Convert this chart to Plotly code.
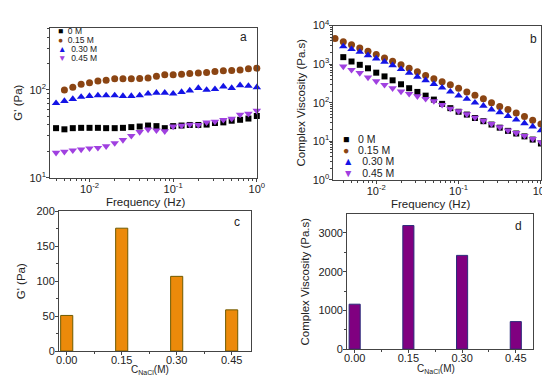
import plotly.graph_objects as go

# ---------------- data ----------------
series_names = ["0 M", "0.15 M", "0.30 M", "0.45 M"]

# Panel a: G' vs frequency
freq_a = [0.00398, 0.00501, 0.00631, 0.00794, 0.01, 0.0126, 0.0158, 0.02, 0.0251, 0.0316,
          0.0398, 0.0501, 0.0631, 0.0794, 0.1, 0.126, 0.158, 0.2, 0.251, 0.316,
          0.398, 0.501, 0.631, 0.794, 1.0]
freq_a_015 = [0.00501, 0.00631, 0.00794, 0.01, 0.0126, 0.0158, 0.02, 0.0251, 0.0316,
              0.0398, 0.0501, 0.0631, 0.0794, 0.1, 0.126, 0.158, 0.2, 0.251, 0.316,
              0.398, 0.501, 0.631, 0.794, 1.0]
g_0M = [36.7, 35.6, 36.7, 37.0, 37.0, 37.0, 36.7, 36.7, 37.0, 37.7, 38.3, 39.3, 38.7, 36.7,
        38.7, 39.3, 39.9, 39.9, 40.3, 42.0, 42.7, 44.6, 45.7, 47.2, 50.5]
g_015M = [100, 107, 116, 121, 126, 129, 134, 134, 134, 135, 137, 143, 149, 149, 151, 154,
          156, 158, 162, 165, 166, 169, 174, 177]
g_030M = [70.5, 74.7, 78.6, 83.2, 85.0, 86.6, 86.6, 86.6, 85.0, 85.0, 86.6, 90.5, 92.7, 92.7,
          90.5, 94.4, 98.4, 105, 100, 102, 109, 105, 113, 111, 107]
g_045M = [19.3, 19.8, 20.5, 21.0, 21.6, 21.9, 22.9, 24.8, 26.9, 30.0, 33.2, 35.5, 34.7, 33.9,
          38.4, 39.3, 40.3, 39.9, 42.7, 43.6, 45.6, 47.2, 52.4, 53.7, 58.0]

# Panel b: complex viscosity vs frequency
freq_b = [0.00398, 0.00501, 0.00631, 0.00794, 0.01, 0.0126, 0.0158, 0.02, 0.0251, 0.0316,
          0.0398, 0.0501, 0.0631, 0.0794, 0.1, 0.126, 0.158, 0.2, 0.251, 0.316,
          0.398, 0.501, 0.631, 0.794, 1.0]
freq_b_015 = [0.00316, 0.00398, 0.00501, 0.00631, 0.00794, 0.01, 0.0126, 0.0158, 0.02, 0.0251,
              0.0316, 0.0398, 0.0501, 0.0631, 0.0794, 0.1, 0.126, 0.158, 0.2, 0.251, 0.316,
              0.398, 0.501, 0.631, 0.794, 1.0]
eta_0M = [1520, 1170, 960, 780, 600, 480, 380, 300, 237, 190, 152, 120, 93, 72, 58,
          49, 40, 33, 27, 22.4, 18.5, 15.8, 13.3, 11.0, 8.7]
eta_015M = [4650, 3800, 3180, 2620, 2150, 1780, 1450, 1180, 960, 780, 630, 510, 420, 350,
            290, 237, 190, 156, 126, 100, 80, 66, 54, 44, 35, 28]
eta_030M = [2880, 2440, 2080, 1700, 1400, 1150, 930, 740, 590, 470, 380, 305, 245, 193, 152,
            125, 100, 83, 66, 56, 45, 36, 29, 24, 19]
eta_045M = [870, 710, 590, 450, 360, 290, 237, 196, 170, 147, 126, 110, 88, 70, 60,
            50, 41, 34, 28, 23, 19, 16.3, 13.8, 11.5, 9.4]

# Panels c, d: bars vs NaCl concentration
conc = [0.00, 0.15, 0.30, 0.45]
conc_labels = ["0.00", "0.15", "0.30", "0.45"]
g_bar = [51, 176, 107, 59]
eta_bar = [1160, 3190, 2420, 710]

# log-axis tick labels
freq_ticks = [0.01, 0.1, 1]
freq_tick_labels = ["10<sup>-2</sup>", "10<sup>-1</sup>", "10<sup>0</sup>"]
g_ticks = [10, 100]
g_tick_labels = ["10<sup>1</sup>", "10<sup>2</sup>"]
eta_ticks = [1, 10, 100, 1000, 10000]
eta_tick_labels = ["10<sup>0</sup>", "10<sup>1</sup>", "10<sup>2</sup>", "10<sup>3</sup>", "10<sup>4</sup>"]

# ---------------- styling ----------------
W, H = 550, 376
FONT = "Arial, Liberation Sans, sans-serif"
AX = "#444444"
TXT = "#222222"
colors = ["#000000", "#8B4513", "#1414E6", "#A040E0"]
symbols = ["square", "circle", "triangle-up", "triangle-down"]
sizes = [6, 7, 7.5, 7.5]
glyphs = ["\u25A0", "\u25CF", "\u25B2", "\u25BC"]


def dx(l, r):
    return [l / W, r / W]


def dy(t, b):
    return [1 - b / H, 1 - t / H]


def axis_style(**kw):
    d = dict(showline=True, linecolor=AX, linewidth=1, mirror=True, ticks="outside",
             ticklen=3, tickcolor=AX, tickwidth=1, showgrid=False, zeroline=False,
             ticklabelstandoff=-2,
             tickfont=dict(family=FONT, size=11, color=TXT),
             title_font=dict(family=FONT, size=11.5, color=TXT))
    d.update(kw)
    return d


fig = go.Figure()

a_x = [freq_a, freq_a_015, freq_a, freq_a]
a_y = [g_0M, g_015M, g_030M, g_045M]
for i in range(4):
    fig.add_trace(go.Scatter(x=a_x[i], y=a_y[i], mode="markers", name=series_names[i],
                             marker=dict(symbol=symbols[i], size=sizes[i], color=colors[i]),
                             xaxis="x", yaxis="y", cliponaxis=False, showlegend=False))

b_x = [freq_b, freq_b_015, freq_b, freq_b]
b_y = [eta_0M, eta_015M, eta_030M, eta_045M]
for i in range(4):
    fig.add_trace(go.Scatter(x=b_x[i], y=b_y[i], mode="markers", name=series_names[i],
                             marker=dict(symbol=symbols[i], size=sizes[i], color=colors[i]),
                             xaxis="x2", yaxis="y2", cliponaxis=False, showlegend=False))

fig.add_trace(go.Bar(x=conc, y=g_bar, width=0.033, xaxis="x3", yaxis="y3", showlegend=False,
                     marker=dict(color="#EC8A0A", line=dict(color="#6E5A00", width=1))))
fig.add_trace(go.Bar(x=conc, y=eta_bar, width=0.031, xaxis="x4", yaxis="y4", showlegend=False,
                     marker=dict(color="#800080", line=dict(color="#2B2B7A", width=1))))

log_minor = dict(ticks="outside", ticklen=2, tickcolor=AX, showgrid=False, dtick="D1")

fig.update_layout(
    width=W, height=H, margin=dict(l=0, r=0, t=0, b=0),
    paper_bgcolor="white", plot_bgcolor="white", showlegend=False,
    font=dict(family=FONT, color=TXT),
    xaxis=axis_style(type="log", domain=dx(40, 251), range=[-2.47, 0.002], anchor="y",
                     tickvals=freq_ticks, ticktext=freq_tick_labels, minor=log_minor),
    yaxis=axis_style(type="log", domain=dy(12, 168), range=[1, 2.71], anchor="x",
                     tickvals=g_ticks, ticktext=g_tick_labels, minor=log_minor,
                     title=dict(text="G' (Pa)", standoff=4)),
    xaxis2=axis_style(type="log", domain=dx(329, 541), range=[-2.52, 0.003], anchor="y2",
                      tickvals=freq_ticks, ticktext=freq_tick_labels, minor=log_minor),
    yaxis2=axis_style(type="log", domain=dy(10, 170), range=[0, 4], anchor="x2",
                      tickvals=eta_ticks, ticktext=eta_tick_labels, minor=log_minor,
                      title=dict(text="Complex Viscosity (Pa.s)", standoff=4)),
    xaxis3=axis_style(domain=dx(49, 245), range=[-0.021, 0.503], anchor="y3",
                      tickvals=conc, ticktext=conc_labels, ticklabelstandoff=-4,
                      minor=dict(ticks="outside", ticklen=2, tickcolor=AX, dtick=0.075, tick0=0)),
    yaxis3=axis_style(domain=dy(203, 348), range=[0, 200], anchor="x3", dtick=50,
                      minor=dict(ticks="outside", ticklen=2, tickcolor=AX, dtick=25),
                      title=dict(text="G' (Pa)", standoff=8)),
    xaxis4=axis_style(domain=dx(343, 533), range=[-0.021, 0.499], anchor="y4",
                      tickvals=conc, ticktext=conc_labels, ticklabelstandoff=-4,
                      minor=dict(ticks="outside", ticklen=2, tickcolor=AX, dtick=0.075, tick0=0)),
    yaxis4=axis_style(domain=dy(206, 346), range=[0, 3480], anchor="x4", dtick=1000,
                      minor=dict(ticks="outside", ticklen=2, tickcolor=AX, dtick=500),
                      title=dict(text="Complex Viscosity (Pa.s)", standoff=6)),
)

ann = []
# x-axis titles (placed as annotations for exact position)
for txt, xx, yy, fs in [("Frequency (Hz)", 137, 193, 11.5), ("Frequency (Hz)", 428, 195, 11.5),
                        ("C<sub>NaCl</sub>(M)", 142, 368, 10), ("C<sub>NaCl</sub>(M)", 434, 367, 10)]:
    ann.append(dict(xref="paper", yref="paper", x=xx / W, y=1 - yy / H, xanchor="center",
                    yanchor="middle", showarrow=False, text=txt,
                    font=dict(family=FONT, size=fs, color=TXT)))
# legend for panel a
for i, yy in enumerate([16, 25.3, 34.7, 44]):
    ann.append(dict(xref="paper", yref="paper", x=46 / W, y=1 - yy / H, xanchor="left",
                    yanchor="middle", showarrow=False,
                    text=f"<span style='color:{colors[i]}'>{glyphs[i]}</span>&nbsp;&nbsp;{series_names[i]}",
                    font=dict(family=FONT, size=8.5, color=TXT)))
# legend for panel b
for i, yy in enumerate([127.7, 139.3, 151, 162.7]):
    ann.append(dict(xref="paper", yref="paper", x=337 / W, y=1 - yy / H, xanchor="left",
                    yanchor="middle", showarrow=False,
                    text=f"<span style='color:{colors[i]}'>{glyphs[i]}</span>&nbsp;&nbsp;&nbsp;{series_names[i]}",
                    font=dict(family=FONT, size=10.5, color=TXT)))
# panel letters
for lab, xx, yy in [("a", 237, 22), ("b", 533, 24), ("c", 231, 214), ("d", 518, 218)]:
    ann.append(dict(xref="paper", yref="paper", x=xx / W, y=1 - yy / H, xanchor="center",
                    yanchor="middle", showarrow=False, text=lab,
                    font=dict(family=FONT, size=12, color=TXT)))
fig.update_layout(annotations=ann)

fig.write_html("out.html")
